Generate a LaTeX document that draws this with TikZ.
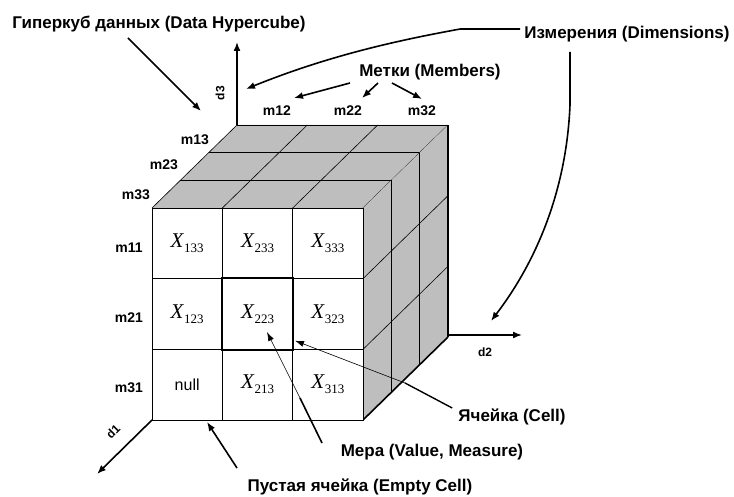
\documentclass[tikz,border=0pt]{standalone}
\usepackage{fontspec}
\setmainfont{Liberation Serif}
\newfontfamily\lab{Liberation Sans}
\usetikzlibrary{arrows.meta,calc}
\definecolor{facegray}{RGB}{190,190,190}
\tikzset{
  lbl/.style={font=\lab\bfseries\fontsize{17}{17}\selectfont, inner sep=0pt},
  mlbl/.style={font=\lab\bfseries\fontsize{14}{14}\selectfont, inner sep=0pt},
  albl/.style={font=\lab\bfseries\fontsize{12}{12}\selectfont, inner sep=0pt},
  cell/.style={draw, line width=0.7pt, minimum width=70.33pt, minimum height=70.67pt, inner sep=0pt, fill=white},
  arr/.style={line width=1.6pt, -{Latex[length=9pt,width=7pt]}},
  thinarr/.style={line width=0.6pt, -{Latex[length=9pt,width=6pt]}},
  grid/.style={line width=0.6pt},
}
\newcommand{\xv}[1]{{\fontsize{21}{21}\selectfont\textit{X}}{\fontsize{13}{13}\selectfont\raisebox{-5pt}{#1}}}
\begin{document}
\begin{tikzpicture}[x=1pt,y=-1pt]
\useasboundingbox (0,0) rectangle (734,497);
% top face
\fill[facegray] (152,208) -- (363,208) -- (448,125) -- (237,125) -- cycle;
\foreach \k in {1,2,3} {
  \draw[grid] (152+28.33*\k,208-27.67*\k) -- (363+28.33*\k,208-27.67*\k);
}
\foreach \j in {0,1,2,3} {
  \draw[grid] (152+70.33*\j,208) -- (237+70.33*\j,125);
}
% right face
\fill[facegray] (363,208) -- (448,125) -- (448,337) -- (363,420) -- cycle;
\foreach \k in {1,2} {
  \draw[grid] (363+28.33*\k,208-27.67*\k) -- (363+28.33*\k,420-27.67*\k);
}
\foreach \i in {1,2} {
  \draw[grid] (363,208+70.67*\i) -- (448,125+70.67*\i);
}
\draw[line width=1.4pt] (448,125) -- (448,337);
\draw[line width=1.6pt] (363,420) -- (448,337);
% front cells
\node[cell] (c11) at (187.17,243.33) {\xv{133}};
\node[cell] (c12) at (257.5,243.33) {\xv{233}};
\node[cell] (c13) at (327.83,243.33) {\xv{333}};
\node[cell] (c21) at (187.17,314) {\xv{123}};
\node[cell] (c22) at (257.5,314) {\xv{223}};
\node[cell] (c23) at (327.83,314) {\xv{323}};
\node[cell] (c31) at (187.17,384.67) {\lab\fontsize{16}{16}\selectfont null};
\node[cell] (c32) at (257.5,384.67) {\xv{213}};
\node[cell] (c33) at (327.83,384.67) {\xv{313}};
\draw[line width=2pt] (c22.north west) rectangle (c22.south east);
\draw[line width=1.6pt] (c31.south west) -- (c33.south east);
% axes
\coordinate (o3) at (237,125);
\coordinate (e3) at (237,42);
\coordinate (o1) at (152,420);
\coordinate (e1) at (97,474);
\coordinate (o2) at (448,335);
\coordinate (e2) at (522,335);
\draw[arr] (o3) -- (e3);
\draw[arr] (o1) -- (e1);
\draw[arr] (o2) -- (e2);
\node[albl, rotate=90] (d3) at (220,93) {d3};
\node[albl, rotate=45] (d1) at (113,432) {d1};
\node[albl] (d2) at (485,352) {d2};
% member labels
\node[mlbl] (m12) at (277,111) {m12};
\node[mlbl] (m22) at (348,111) {m22};
\node[mlbl] (m32) at (422,111) {m32};
\node[mlbl] (m13) at (195,140) {m13};
\node[mlbl] (m23) at (164,165) {m23};
\node[mlbl] (m33) at (136,195) {m33};
\node[mlbl] (m11) at (129,248) {m11};
\node[mlbl] (m21) at (129,318) {m21};
\node[mlbl] (m31) at (129,388) {m31};
% big labels
\node[lbl] (hyp) at (159,24) {Гиперкуб данных (Data Hypercube)};
\node[lbl] (dim) at (627,34) {Измерения (Dimensions)};
\node[lbl] (mem) at (430,72) {Метки (Members)};
\node[lbl] (cellL) at (512,417) {Ячейка (Cell)};
\node[lbl] (meas) at (432,452) {Мера (Value, Measure)};
\node[lbl] (empty) at (360,487) {Пустая ячейка (Empty Cell)};
% hypercube arrow
\coordinate (hs) at (128,38);
\coordinate (he) at (201,111);
\draw[arr] (hs) -- (he);
% dimension arrows
\coordinate (ds1) at ($(dim.west)+(-4,-5)$);
\coordinate (dt1) at (246,89);
\draw[arr] (ds1) -- ++(-60,0) .. controls (400,40) and (330,55) .. (dt1);
\coordinate (ds2) at (570,52);
\coordinate (dt2) at (491,321);
\draw[arr] (ds2) -- (570,105) .. controls (566,200) and (530,270) .. (dt2);
% members arrows
\coordinate (ms1) at (350,83);
\coordinate (mt1) at (294,98);
\coordinate (ms2) at (378,83);
\coordinate (mt2) at (362,98);
\coordinate (ms3) at (392,83);
\coordinate (mt3) at (422,99);
\draw[arr] (ms1) -- (mt1);
\draw[arr] (ms2) -- (mt2);
\draw[arr] (ms3) -- (mt3);
% cell arrow
\coordinate (cs) at ($(cellL.west)+(-6,-9)$);
\coordinate (cm) at (405,383);
\coordinate (ct) at ($(c22.south east)+(2,-9)$);
\draw[line width=1.4pt] (cs) -- (cm);
\draw[thinarr] (cm) -- (ct);
% measure arrow
\coordinate (ms) at (322,443);
\coordinate (mm) at (300,398);
\coordinate (mt) at (267,332);
\draw[line width=1.6pt] (ms) -- (mm);
\draw[thinarr] (mm) -- (mt);
% empty cell arrow
\coordinate (es) at (237,468);
\coordinate (et) at (207,422);
\draw[arr] (es) -- (et);
\end{tikzpicture}
\end{document}
